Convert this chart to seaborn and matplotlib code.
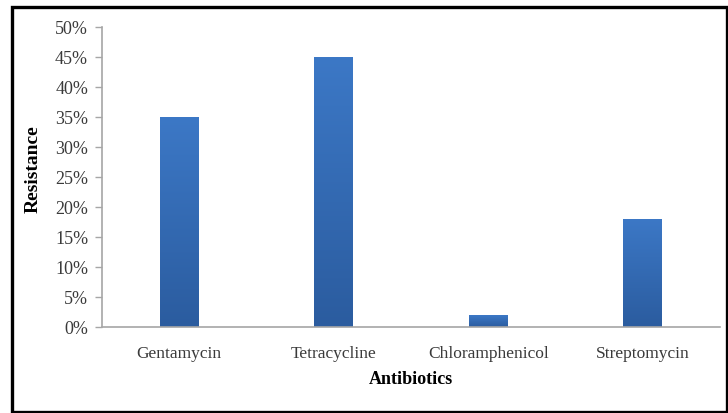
import numpy as np
import pandas as pd
import matplotlib
matplotlib.use("Agg")
import matplotlib.pyplot as plt
from matplotlib.patches import Rectangle
from matplotlib.colors import LinearSegmentedColormap
import seaborn as sns

antibiotics = ["Gentamycin", "Tetracycline", "Chloramphenicol", "Streptomycin"]
resistance = [35, 45, 2, 18]
y_ticks = [0, 5, 10, 15, 20, 25, 30, 35, 40, 45, 50]

df = pd.DataFrame({"Antibiotics": antibiotics, "Resistance": resistance})

sns.set_theme(style="white")
plt.rcParams["font.family"] = ["Liberation Serif", "DejaVu Serif"]

W, H = 728, 413
fig = plt.figure(figsize=(W / 100, H / 100), dpi=100)
ax = fig.add_axes([102 / W, 1 - 327 / H, (720 - 102) / W, (327 - 27) / H])

sns.barplot(data=df, x="Antibiotics", y="Resistance", ax=ax,
            color="#3570bd", width=0.25, saturation=1, edgecolor="none")

# vertical blue gradient inside each bar
cmap = LinearSegmentedColormap.from_list("bar", ["#2b5c9f", "#3c78c6"])
grad = np.linspace(0, 1, 256).reshape(-1, 1)
for patch in ax.patches:
    x0, y0 = patch.get_x(), patch.get_y()
    w, h = patch.get_width(), patch.get_height()
    im = ax.imshow(grad, cmap=cmap, aspect="auto", origin="lower",
                   extent=(x0, x0 + w, y0, y0 + h), zorder=patch.get_zorder() + 0.1)
    im.set_clip_path(patch)

ax.set_xlim(-0.5, len(antibiotics) - 0.5)
ax.set_ylim(0, 50)
ax.set_yticks(y_ticks)
ax.set_yticklabels([f"{v}%" for v in y_ticks])

for side in ("top", "right"):
    ax.spines[side].set_visible(False)
for side in ("left", "bottom"):
    ax.spines[side].set_color("#a6a6a6")
    ax.spines[side].set_linewidth(1.2)

ax.tick_params(axis="y", which="major", left=True, length=5, width=1,
               color="#a6a6a6", labelsize=13, labelcolor="#3a3a3a", pad=5)
ax.tick_params(axis="x", bottom=False, labelsize=12.5, labelcolor="#3a3a3a", pad=8)

ax.set_xlabel("Antibiotics", fontsize=13, fontweight="bold", color="black", labelpad=6)
ax.set_ylabel("Resistance", fontsize=14, fontweight="bold", color="black")
ax.yaxis.set_label_coords(-0.097, 0.527)

# black frame around the figure
frame = Rectangle((11.5 / W, 1 - 411.5 / H), (727 - 11.5) / W, (411.5 - 6.5) / H,
                  transform=fig.transFigure, fill=False, edgecolor="black",
                  linewidth=2.4, zorder=10)
fig.patches.append(frame)

fig.savefig("out.png", dpi=100)
